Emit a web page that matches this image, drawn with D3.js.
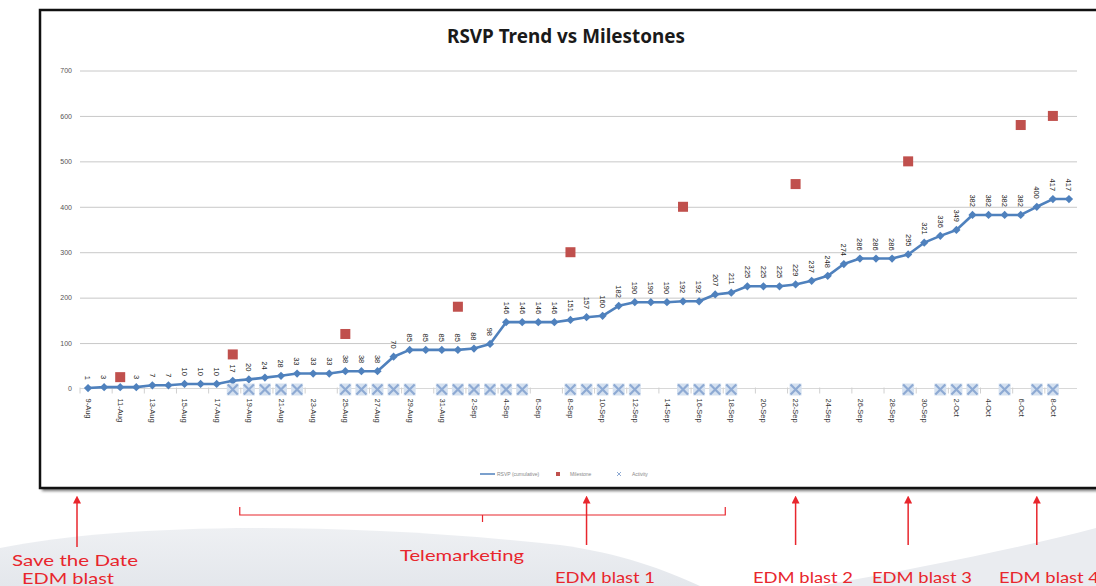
<!DOCTYPE html>
<html><head><meta charset="utf-8">
<script src="https://cdn.jsdelivr.net/npm/d3@7"></script>
<style>body{margin:0;background:#fff;} svg{display:block;}</style>
</head><body>
<svg id="c" width="1096" height="586"></svg>
<script>
const title = 'RSVP Trend vs Milestones';
const dates = ['9-Aug','10-Aug','11-Aug','12-Aug','13-Aug','14-Aug','15-Aug','16-Aug','17-Aug','18-Aug',
  '19-Aug','20-Aug','21-Aug','22-Aug','23-Aug','24-Aug','25-Aug','26-Aug','27-Aug','28-Aug',
  '29-Aug','30-Aug','31-Aug','1-Sep','2-Sep','3-Sep','4-Sep','5-Sep','6-Sep','7-Sep',
  '8-Sep','9-Sep','10-Sep','11-Sep','12-Sep','13-Sep','14-Sep','15-Sep','16-Sep','17-Sep',
  '18-Sep','19-Sep','20-Sep','21-Sep','22-Sep','23-Sep','24-Sep','25-Sep','26-Sep','27-Sep',
  '28-Sep','29-Sep','30-Sep','1-Oct','2-Oct','3-Oct','4-Oct','5-Oct','6-Oct','7-Oct',
  '8-Oct','9-Oct'];
const rsvp = [1,3,3,3,7,7,10,10,10,17,
  20,24,28,33,33,33,38,38,38,70,
  85,85,85,85,88,98,146,146,146,146,
  151,157,160,182,190,190,190,192,192,207,
  211,225,225,225,229,237,248,274,286,286,
  286,295,321,336,349,382,382,382,382,400,
  417,417];
const tickLabels = ['9-Aug','11-Aug','13-Aug','15-Aug','17-Aug','19-Aug','21-Aug','23-Aug','25-Aug','27-Aug',
  '29-Aug','31-Aug','2-Sep','4-Sep','6-Sep','8-Sep','10-Sep','12-Sep','14-Sep','16-Sep',
  '18-Sep','20-Sep','22-Sep','24-Sep','26-Sep','28-Sep','30-Sep','2-Oct','4-Oct','6-Oct','8-Oct'];
const milestoneDates = ['11-Aug','18-Aug','25-Aug','1-Sep','8-Sep','15-Sep','22-Sep','29-Sep','6-Oct','8-Oct'];
const milestoneValues = [25,75,120,180,300,400,450,500,580,600];
const activityDates = ['18-Aug','19-Aug','20-Aug','21-Aug','22-Aug','25-Aug','26-Aug','27-Aug','28-Aug','29-Aug',
  '31-Aug','1-Sep','2-Sep','3-Sep','4-Sep','5-Sep','8-Sep','9-Sep','10-Sep','11-Sep','12-Sep',
  '15-Sep','16-Sep','17-Sep','18-Sep','22-Sep','29-Sep','1-Oct','2-Oct','3-Oct','5-Oct','7-Oct','8-Oct'];
const activityValues = [0,0,0,0,0,0,0,0,0,0, 0,0,0,0,0,0,0,0,0,0,0, 0,0,0,0,0,0,0,0,0,0,0,0];
const yTicks = [0,100,200,300,400,500,600,700];
const legendLabels = ['RSVP (cumulative)','Milestone','Activity'];
const eventLabels = ['EDM blast 1','EDM blast 2','EDM blast 3','EDM blast 4'];
const eventDates = ['9-Sep','22-Sep','29-Sep','7-Oct'];
const telemarketingRange = ['18-Aug','18-Sep'];

const svg = d3.select('#c');
const defs = svg.append('defs');
const f = defs.append('filter').attr('id','sh').attr('x','-5%').attr('y','-5%').attr('width','110%').attr('height','115%');
f.append('feGaussianBlur').attr('stdDeviation',1.6);
const g1 = defs.append('linearGradient').attr('id','bg1').attr('x1',0).attr('y1',0).attr('x2',0).attr('y2',1);
g1.append('stop').attr('offset','0%').attr('stop-color','#eef0f3');
g1.append('stop').attr('offset','100%').attr('stop-color','#e4e7ec');

// decorative background swoosh
svg.append('path').attr('d','M0,548 C120,524 330,520 560,545 C620,553 665,570 700,586 L0,586 Z').attr('fill','url(#bg1)');
svg.append('path').attr('d','M820,586 C930,566 1020,548 1096,528 L1096,586 Z').attr('fill','#eaecf0');

// chart frame with shadow
svg.append('rect').attr('x',42).attr('y',13).attr('width',1070).attr('height',478).attr('fill','#777').attr('filter','url(#sh)');
svg.append('rect').attr('x',40).attr('y',10).attr('width',1070).attr('height',478).attr('fill','#fff').attr('stroke','#111').attr('stroke-width',2.5);

const L = 80, R = 1077;
const x = d3.scalePoint().domain(dates).range([L, R]).padding(0.5);
const y = d3.scaleLinear().domain([0, 700]).range([388.5, 70.5]);
const step = x.step();

// gridlines
svg.append('g').attr('transform',`translate(${L},0)`)
  .call(d3.axisLeft(y).tickValues(yTicks.filter(v=>v>0)).tickSize(-(R-L)).tickFormat(''))
  .call(g=>g.select('.domain').remove())
  .call(g=>g.selectAll('line').attr('stroke','#c8c8c8').attr('stroke-width',1));
svg.append('line').attr('x1',L).attr('x2',R).attr('y1',y(0)).attr('y2',y(0)).attr('stroke','#d8d8d8');

// y labels
svg.append('g').attr('transform',`translate(${L},0)`)
  .call(d3.axisLeft(y).tickValues(yTicks).tickSize(0).tickPadding(8))
  .call(g=>g.select('.domain').remove())
  .call(g=>g.selectAll('text').attr('font-family','Liberation Sans, Arial, sans-serif').attr('font-size',7).attr('fill','#555'));

// x tick marks (between categories)
svg.append('g').selectAll('line').data(tickLabels).join('line')
  .attr('x1',d=>x(d)-step/2).attr('x2',d=>x(d)-step/2)
  .attr('y1',y(0)-1).attr('y2',y(0)+5).attr('stroke','#d0d0d0');

// x labels
svg.append('g').attr('transform',`translate(0,${y(0)})`)
  .call(d3.axisBottom(x).tickValues(tickLabels).tickSize(0))
  .call(g=>g.select('.domain').remove())
  .call(g=>g.selectAll('text').attr('transform','rotate(90)').attr('x',10).attr('y',0).attr('dy','0.35em')
     .style('text-anchor','start').attr('font-family','Liberation Sans, Arial, sans-serif').attr('font-size',7.5).attr('fill','#333'));

// RSVP line
const pts = dates.map((d,i)=>({d, v: rsvp[i]}));
svg.append('path').datum(pts)
  .attr('d', d3.line().x(p=>x(p.d)).y(p=>y(p.v)))
  .attr('fill','none').attr('stroke','#4f81bd').attr('stroke-width',2.6).attr('stroke-linejoin','round');
svg.append('g').selectAll('path').data(pts).join('path')
  .attr('d', d3.symbol(d3.symbolSquare, 34))
  .attr('transform', p=>`translate(${x(p.d)},${y(p.v)}) rotate(45)`)
  .attr('fill','#4f81bd');

// data labels
svg.append('g').selectAll('text').data(pts).join('text')
  .attr('transform', p=>`translate(${x(p.d)},${y(p.v)-8}) rotate(90)`)
  .attr('dy','0.35em').attr('text-anchor','end')
  .attr('font-family','Liberation Sans, Arial, sans-serif').attr('font-size',7.5).attr('fill','#222')
  .text(p=>p.v);

// milestones
svg.append('g').selectAll('rect').data(milestoneDates.map((d,i)=>({d, v: milestoneValues[i]}))).join('rect')
  .attr('x',p=>x(p.d)-5).attr('y',p=>y(p.v)-5).attr('width',10).attr('height',10).attr('fill','#c0504d');

// activity markers
const act = svg.append('g').selectAll('g').data(activityDates.map((d,i)=>({d, v: activityValues[i]}))).join('g')
  .attr('transform',p=>`translate(${x(p.d)},${y(p.v)+1})`);
act.append('rect').attr('x',-6).attr('y',-6).attr('width',12).attr('height',12).attr('fill','#d5e1f0');
act.append('path').attr('d','M-5,-5L5,5M-5,5L5,-5').attr('stroke','#8eaad3').attr('stroke-width',2.2);

// title
svg.append('text').attr('x',566).attr('y',43).attr('text-anchor','middle')
  .attr('font-family','Noto Sans, DejaVu Sans, sans-serif').attr('font-weight','bold').attr('font-size',19)
  .attr('fill','#1a1a1a').attr('textLength',238).attr('lengthAdjust','spacingAndGlyphs').text(title);

// legend
const lg = svg.append('g').attr('font-family','Liberation Sans, Arial, sans-serif').attr('font-size',5).attr('fill','#888');
lg.append('line').attr('x1',480).attr('x2',495).attr('y1',474).attr('y2',474).attr('stroke','#4f81bd').attr('stroke-width',1.5);
lg.append('text').attr('x',497).attr('y',476).text(legendLabels[0]);
lg.append('rect').attr('x',556).attr('y',472).attr('width',4).attr('height',4).attr('fill','#c0504d');
lg.append('text').attr('x',570).attr('y',476).text(legendLabels[1]);
lg.append('path').attr('d','M617,472L621,476M617,476L621,472').attr('stroke','#8eaad3');
lg.append('text').attr('x',632).attr('y',476).text(legendLabels[2]);

// annotations
const red = '#e8262d';
const an = svg.append('g').attr('font-family','Lato, Noto Sans, sans-serif').attr('font-size',16).attr('fill',red);
defs.append('marker').attr('id','ah').attr('viewBox','0 0 10 10').attr('refX',2).attr('refY',5)
  .attr('markerUnits','userSpaceOnUse').attr('markerWidth',8).attr('markerHeight',8).attr('orient','auto-start-reverse')
  .append('path').attr('d','M0,0 L10,5 L0,10 Z').attr('fill',red);
function arrow(ax, y1, y2){
  an.append('line').attr('x1',ax).attr('x2',ax).attr('y1',y1).attr('y2',y2).attr('stroke',red).attr('stroke-width',1.5)
    .attr('marker-start','url(#ah)');
}
arrow(77, 502, 547);
eventDates.forEach((d,i)=>{ arrow(x(d), 502, 545); });
const evCenters = [605, 803, 922, 1049];
eventLabels.forEach((t,i)=>{
  an.append('text').attr('x',evCenters[i]).attr('y',583).attr('text-anchor','middle')
    .attr('textLength',100).attr('lengthAdjust','spacingAndGlyphs').text(t);
});
an.append('text').attr('x',75).attr('y',566).attr('text-anchor','middle').attr('textLength',126).attr('lengthAdjust','spacingAndGlyphs').text('Save the Date');
an.append('text').attr('x',68).attr('y',584).attr('text-anchor','middle').attr('textLength',92).attr('lengthAdjust','spacingAndGlyphs').text('EDM blast');
an.append('text').attr('x',462).attr('y',561).attr('text-anchor','middle').attr('textLength',124).attr('lengthAdjust','spacingAndGlyphs').text('Telemarketing');
// bracket
const bx1 = x(telemarketingRange[0]) + 7, bx2 = x(telemarketingRange[1]) - 6, bm = (bx1+bx2)/2;
an.append('path').attr('d',`M${bx1},507 L${bx1},515 L${bx2},515 L${bx2},507 M${bm},515 L${bm},522`)
  .attr('fill','none').attr('stroke',red).attr('stroke-width',1.2);
</script>
</body></html>
